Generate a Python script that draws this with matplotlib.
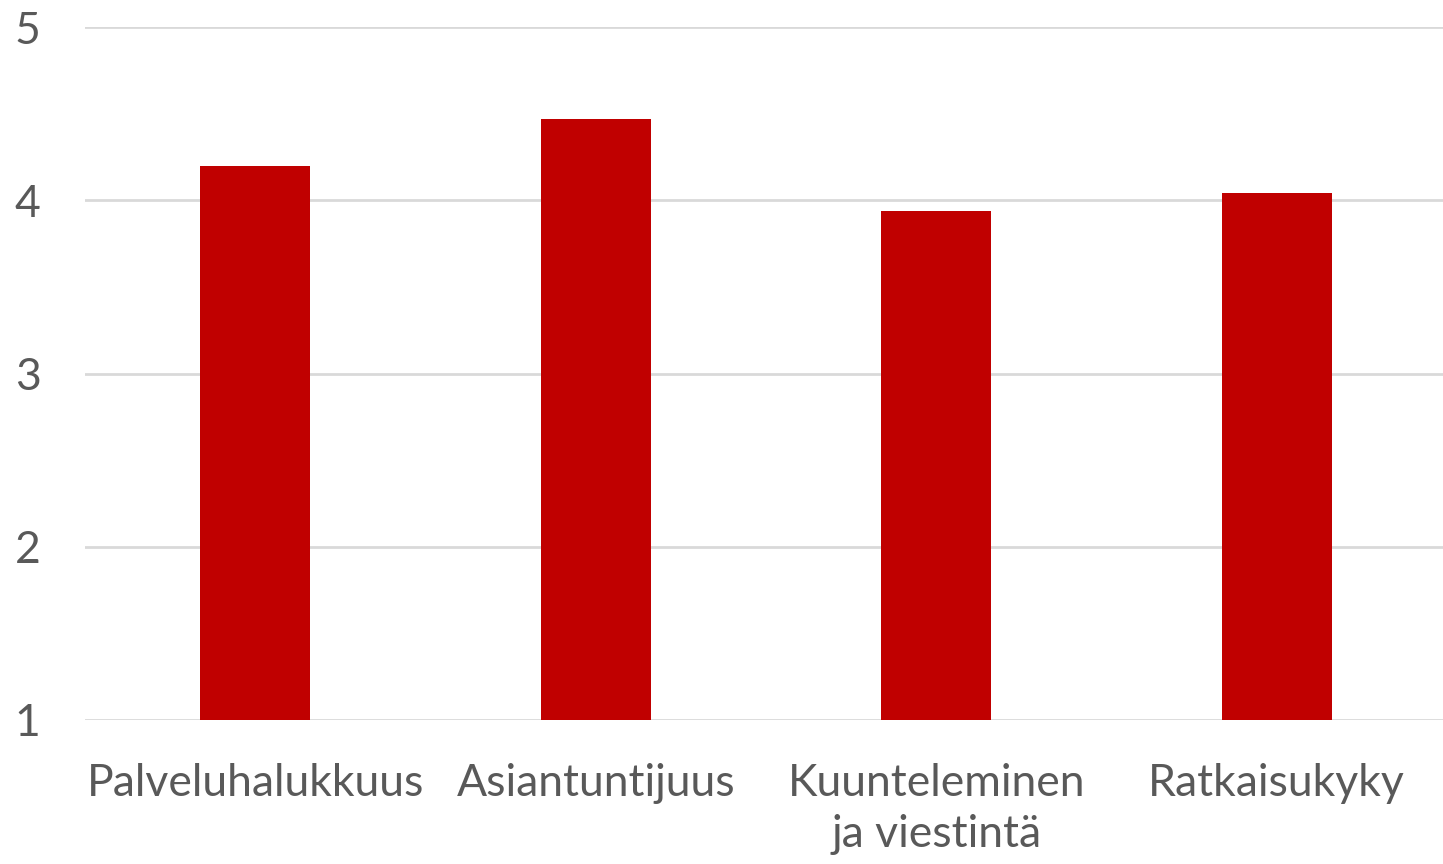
import matplotlib
matplotlib.use('Agg')
import matplotlib.pyplot as plt

# ==============================================================
# DATA
# ==============================================================

categories = ['Palveluhalukkuus', 'Asiantuntijuus', 'Kuunteleminen\nja viestintä', 'Ratkaisukyky']
values = [4.20, 4.47, 3.94, 4.04]
y_ticks = [1, 2, 3, 4, 5]

plt.rcParams['font.family'] = ['Lato', 'DejaVu Sans']

fig = plt.figure(figsize=(14.43, 8.64), dpi=100)
ax = fig.add_axes([85 / 1443, 1 - 720 / 864, (1447 - 85) / 1443, (720 - 27) / 864])

x = range(len(categories))
ax.bar(x, [v - 1 for v in values], bottom=1, width=0.322, color='#c00000', zorder=3)

ax.set_xlim(-0.5, 3.5)
ax.set_ylim(1, 5)
ax.set_yticks(y_ticks)
ax.set_xticks(list(x))
ax.set_xticklabels(categories, linespacing=1.3)

ax.grid(axis='y', color='#d9d9d9', linewidth=2, zorder=0)
ax.set_axisbelow(True)
for s in ax.spines.values():
    s.set_visible(False)

ax.tick_params(axis='both', length=0, labelsize=32, colors='#595959')
ax.tick_params(axis='y', pad=32)
ax.tick_params(axis='x', pad=31)

fig.savefig('out.png', dpi=100)
